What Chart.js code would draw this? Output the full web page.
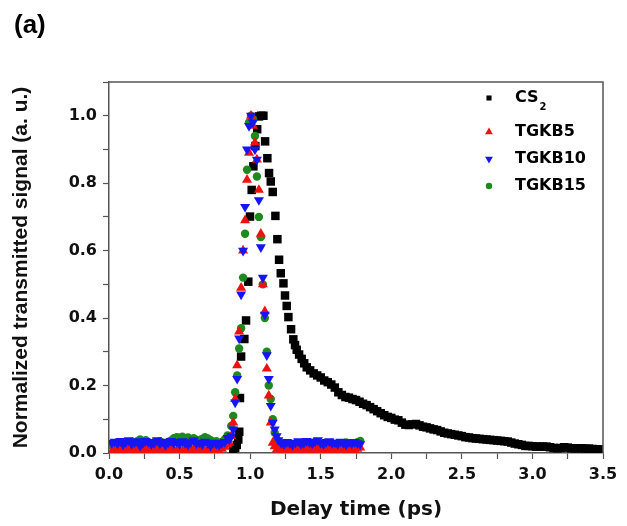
<!DOCTYPE html>
<html>
<head>
<meta charset="utf-8">
<script src="https://cdn.jsdelivr.net/npm/chart.js@4/dist/chart.umd.min.js"></script>
<style>
  html, body { margin: 0; padding: 0; background: #fff; }
  #wrap { width: 627px; height: 526px; }
</style>
</head>
<body>
<div id="wrap"><canvas id="myChart" width="627" height="526"></canvas></div>
<script>
// CS2 reference trace (delay in ps, normalized signal)
const delayCS2 = [
  0.880, 0.894, 0.905, 0.916, 0.923, 0.928, 0.936, 0.959, 0.971, 0.987,
  0.999, 1.011, 1.023, 1.037, 1.050, 1.063, 1.078, 1.094, 1.106, 1.122,
  1.134, 1.146, 1.160, 1.179, 1.193, 1.205, 1.217, 1.236, 1.247, 1.259,
  1.271, 1.290, 1.306, 1.318, 1.330, 1.347, 1.365, 1.383, 1.401, 1.425,
  1.450, 1.475, 1.500, 1.525, 1.550, 1.575, 1.600, 1.625, 1.650, 1.675,
  1.700, 1.725, 1.750, 1.775, 1.800, 1.825, 1.850, 1.875, 1.900, 1.925,
  1.950, 1.975, 2.000, 2.025, 2.050, 2.075, 2.100, 2.125, 2.150, 2.175,
  2.200, 2.225, 2.250, 2.275, 2.300, 2.325, 2.350, 2.375, 2.400, 2.425,
  2.450, 2.475, 2.500, 2.525, 2.550, 2.575, 2.600, 2.625, 2.650, 2.675,
  2.700, 2.725, 2.750, 2.775, 2.800, 2.825, 2.850, 2.875, 2.900, 2.925,
  2.950, 2.975, 3.000, 3.025, 3.050, 3.075, 3.100, 3.125, 3.150, 3.175,
  3.200, 3.225, 3.250, 3.275, 3.300, 3.325, 3.350, 3.375, 3.400, 3.425,
  3.450, 3.470
];
const signalCS2 = [
  0.008, 0.015, 0.024, 0.040, 0.063, 0.163, 0.286, 0.338, 0.393, 0.508,
  0.701, 0.780, 0.850, 0.910, 0.960, 0.998, 1.000, 1.000, 0.924, 0.874,
  0.830, 0.805, 0.774, 0.703, 0.634, 0.573, 0.533, 0.503, 0.467, 0.436,
  0.403, 0.367, 0.337, 0.320, 0.306, 0.292, 0.279, 0.266, 0.254, 0.245,
  0.236, 0.230, 0.224, 0.215, 0.210, 0.203, 0.194, 0.180, 0.172, 0.166,
  0.164, 0.160, 0.157, 0.152, 0.146, 0.142, 0.136, 0.130, 0.124, 0.118,
  0.112, 0.107, 0.104, 0.099, 0.097, 0.090, 0.084, 0.083, 0.085, 0.086,
  0.082, 0.078, 0.076, 0.073, 0.070, 0.068, 0.064, 0.060, 0.058, 0.056,
  0.054, 0.052, 0.050, 0.047, 0.046, 0.044, 0.043, 0.042, 0.041, 0.040,
  0.039, 0.038, 0.037, 0.036, 0.035, 0.034, 0.031, 0.028, 0.026, 0.024,
  0.021, 0.021, 0.020, 0.019, 0.019, 0.019, 0.019, 0.017, 0.015, 0.014,
  0.015, 0.017, 0.016, 0.014, 0.014, 0.014, 0.014, 0.013, 0.013, 0.012,
  0.011, 0.011
];

// TGKB glasses share one delay grid
const delayTGKB = [
  0.02, 0.04, 0.06, 0.08, 0.10, 0.12, 0.14, 0.16, 0.18, 0.20,
  0.22, 0.24, 0.26, 0.28, 0.30, 0.32, 0.34, 0.36, 0.38, 0.40,
  0.42, 0.44, 0.46, 0.48, 0.50, 0.52, 0.54, 0.56, 0.58, 0.60,
  0.62, 0.64, 0.66, 0.68, 0.70, 0.72, 0.74, 0.76, 0.78, 0.80,
  0.82, 0.84,
  0.852, 0.866, 0.880, 0.894, 0.908, 0.922, 0.936, 0.950, 0.964, 0.978,
  0.992, 1.006, 1.020, 1.034, 1.048, 1.062, 1.076, 1.090, 1.104, 1.118,
  1.132, 1.146, 1.160, 1.174, 1.188,
  1.20, 1.22, 1.24, 1.26, 1.28, 1.30, 1.32, 1.34, 1.36, 1.38,
  1.40, 1.42, 1.44, 1.46, 1.48, 1.50, 1.52, 1.54, 1.56, 1.58,
  1.60, 1.62, 1.64, 1.66, 1.68, 1.70, 1.72, 1.74, 1.76, 1.78
];
const signalTGKB5 = [
  0.004, 0.008, 0.006, 0.010, 0.005, 0.012, 0.007, 0.009, 0.015, 0.006,
  0.011, 0.004, 0.013, 0.008, 0.006, 0.017, 0.009, 0.005, 0.012, 0.007,
  0.010, 0.014, 0.006, 0.008, 0.011, 0.005, 0.016, 0.009, 0.007, 0.012,
  0.004, 0.010, 0.013, 0.006, 0.009, 0.015, 0.007, 0.011, 0.005, 0.012,
  0.018, 0.025,
  0.03, 0.05, 0.09, 0.16, 0.26, 0.36, 0.49, 0.60, 0.69, 0.81,
  0.89, 1.00, 0.97, 0.92, 0.87, 0.78, 0.65, 0.50, 0.42, 0.25,
  0.17, 0.09, 0.03, 0.02, 0.01,
  0.012, 0.008, 0.015, 0.006, 0.010, 0.018, 0.007, 0.012, 0.005, 0.014,
  0.009, 0.016, 0.006, 0.011, 0.019, 0.008, 0.013, 0.005, 0.010, 0.017,
  0.007, 0.012, 0.009, 0.015, 0.006, 0.011, 0.014, 0.008, 0.012, 0.016
];
const signalTGKB10 = [
  0.030, 0.034, 0.028, 0.036, 0.025, 0.032, 0.038, 0.027, 0.031, 0.035,
  0.022, 0.029, 0.036, 0.033, 0.026, 0.030, 0.038, 0.028, 0.034, 0.024,
  0.031, 0.036, 0.029, 0.033, 0.027, 0.035, 0.030, 0.025, 0.032, 0.037,
  0.028, 0.031, 0.026, 0.034, 0.029, 0.022, 0.031, 0.027, 0.024, 0.030,
  0.033, 0.045,
  0.04, 0.05, 0.07, 0.15, 0.22, 0.34, 0.47, 0.60, 0.73, 0.90,
  0.97, 1.00, 0.98, 0.90, 0.87, 0.75, 0.61, 0.52, 0.41, 0.29,
  0.22, 0.14, 0.09, 0.07, 0.05,
  0.038, 0.030, 0.026, 0.033, 0.029, 0.024, 0.031, 0.035, 0.027, 0.030,
  0.036, 0.032, 0.028, 0.034, 0.038, 0.030, 0.026, 0.033, 0.035, 0.029,
  0.031, 0.027, 0.034, 0.030, 0.025, 0.032, 0.028, 0.033, 0.029, 0.026
];
const signalTGKB15 = [
  0.022, 0.026, 0.020, 0.030, 0.024, 0.028, 0.021, 0.033, 0.027, 0.035,
  0.040, 0.031, 0.038, 0.029, 0.026, 0.032, 0.028, 0.035, 0.030, 0.027,
  0.033, 0.037, 0.044, 0.047, 0.045, 0.048, 0.043, 0.046, 0.041, 0.044,
  0.039, 0.036, 0.042, 0.047, 0.043, 0.038, 0.031, 0.035, 0.029, 0.033,
  0.040, 0.052,
  0.05, 0.08, 0.11, 0.18, 0.23, 0.31, 0.37, 0.52, 0.65, 0.84,
  0.98, 1.00, 0.99, 0.94, 0.82, 0.70, 0.64, 0.50, 0.40, 0.30,
  0.20, 0.16, 0.10, 0.06, 0.04,
  0.030, 0.027, 0.022, 0.025, 0.029, 0.020, 0.026, 0.024, 0.028, 0.031,
  0.027, 0.023, 0.026, 0.033, 0.030, 0.025, 0.028, 0.024, 0.027, 0.030,
  0.026, 0.029, 0.023, 0.027, 0.031, 0.028, 0.025, 0.029, 0.032, 0.036
];

const seriesLabels = ["CS2", "TGKB5", "TGKB10", "TGKB15"];
const xMin = 0, xMax = 3.5, xStep = 0.25;
const yMin = 0, yMax = 1.1, yStep = 0.1;

function toPoints(xs, ys) {
  return xs.map((x, i) => ({ x: x, y: ys[i] }));
}

const axisColor = '#555';
const textColor = '#111';

// frame on top/right + "(a)" + legend with subscript
const extras = {
  id: 'extras',
  afterDatasetsDraw(chart) {
    const ctx = chart.ctx;
    const a = chart.chartArea;
    ctx.save();
    ctx.strokeStyle = axisColor;
    ctx.lineWidth = 1.5;
    ctx.beginPath();
    ctx.moveTo(a.left, a.top);
    ctx.lineTo(a.right, a.top);
    ctx.lineTo(a.right, a.bottom);
    ctx.stroke();

    ctx.fillStyle = '#000';
    ctx.font = 'bold 26px "Liberation Sans", Arial, sans-serif';
    ctx.textBaseline = 'alphabetic';
    ctx.textAlign = 'left';
    ctx.fillText('(a)', 14, 33);

    const rows = [98, 132, 159, 186];
    const markerX = 489;
    const textX = 515;
    chart.data.datasets.forEach((ds, i) => {
      ctx.fillStyle = ds.backgroundColor;
      ctx.strokeStyle = ds.backgroundColor;
      Chart.helpers.drawPoint(ctx, {
        pointStyle: ds.pointStyle,
        radius: ds.legendRadius,
        rotation: ds.rotation || 0,
        borderWidth: 0
      }, markerX, rows[i]);
      ctx.fillStyle = '#000';
      ctx.font = 'bold 16px "DejaVu Sans", sans-serif';
      ctx.textBaseline = 'middle';
      if (ds.label === 'CS2') {
        ctx.fillText('CS', textX, rows[i]);
        const w = ctx.measureText('CS').width;
        ctx.font = 'bold 10px "DejaVu Sans", sans-serif';
        ctx.fillText('2', textX + w + 1, rows[i] + 9);
      } else {
        ctx.fillText(ds.label, textX, rows[i]);
      }
    });
    ctx.restore();
  }
};

var ctx = document.getElementById('myChart').getContext('2d');

var myChart = new Chart(ctx, {
  type: 'scatter',
  data: {
    datasets: [
      {
        label: seriesLabels[0],
        data: toPoints(delayCS2, signalCS2),
        pointStyle: 'rect', pointRadius: 6, legendRadius: 3.6,
        backgroundColor: '#000', borderWidth: 0, order: 4
      },
      {
        label: seriesLabels[1],
        data: toPoints(delayTGKB, signalTGKB5),
        pointStyle: 'triangle', pointRadius: 5.8, legendRadius: 4.5,
        backgroundColor: '#f01010', borderWidth: 0, order: 2
      },
      {
        label: seriesLabels[2],
        data: toPoints(delayTGKB, signalTGKB10),
        pointStyle: 'triangle', pointRadius: 5.8, legendRadius: 4.5,
        rotation: 180, pointRotation: 180,
        backgroundColor: '#1515f5', borderWidth: 0, order: 1
      },
      {
        label: seriesLabels[3],
        data: toPoints(delayTGKB, signalTGKB15),
        pointStyle: 'circle', pointRadius: 4.2, legendRadius: 3.2,
        backgroundColor: '#1c8a1c', borderWidth: 0, order: 3
      }
    ]
  },
  options: {
    responsive: false,
    animation: false,
    layout: { padding: { top: 82, right: 24, left: 0, bottom: 0 } },
    plugins: {
      legend: { display: false },
      tooltip: { enabled: false }
    },
    scales: {
      x: {
        type: 'linear',
        min: xMin, max: xMax,
        afterFit: function(scale) { scale.height = 73; },
        ticks: {
          stepSize: xStep, autoSkip: false, maxRotation: 0, padding: 6,
          color: textColor,
          font: { family: 'DejaVu Sans', weight: 'bold', size: 16 },
          callback: function(v) { return Math.round(v * 4) % 2 === 0 ? v.toFixed(1) : ''; }
        },
        grid: { drawOnChartArea: false, tickLength: 6, tickColor: axisColor, tickWidth: 1.2 },
        border: { color: axisColor, width: 1.5 },
        title: {
          display: true, text: 'Delay time (ps)', color: textColor,
          font: { family: 'DejaVu Sans', weight: 'bold', size: 20 },
          padding: { top: 0, bottom: 4 }
        }
      },
      y: {
        min: yMin, max: yMax,
        afterFit: function(scale) { scale.width = 109; },
        ticks: {
          stepSize: yStep, autoSkip: false, padding: 6,
          color: textColor,
          font: { family: 'DejaVu Sans', weight: 'bold', size: 16 },
          callback: function(v) {
            const k = Math.round(v * 10);
            return (k % 2 === 0 && k <= 10) ? (k / 10).toFixed(1) : '';
          }
        },
        grid: { drawOnChartArea: false, tickLength: 6, tickColor: axisColor, tickWidth: 1.2 },
        border: { color: axisColor, width: 1.5 },
        title: {
          display: true, text: 'Normalized transmitted signal (a. u.)', color: textColor,
          font: { family: 'Liberation Sans', weight: 'bold', size: 21 },
          padding: { top: 9, bottom: 0 }
        }
      }
    }
  },
  plugins: [extras]
});
</script>
</body>
</html>
